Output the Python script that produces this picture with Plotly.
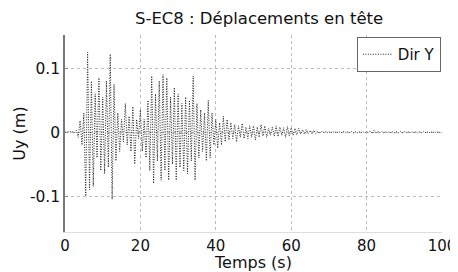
import plotly.graph_objects as go

# Sampling step of the displacement record (s)
dt = 0.5

# Displacement Uy (m), one value every dt seconds
uy_0_20 = [
    0.0, 0.0, 0.0, 0.0, 0.001, -0.001, 0.003, -0.008, 0.018, -0.02,
    0.03, -0.1, 0.125, -0.09, 0.08, -0.085, 0.06, -0.04, 0.085, -0.06,
    0.055, -0.065, 0.08, -0.055, 0.122, -0.105, 0.075, -0.045, 0.03, -0.03,
    0.02, -0.015, 0.045, -0.02, 0.025, -0.03, 0.04, -0.05, 0.02, -0.01,
]
uy_20_40 = [
    0.035, -0.03, 0.02, -0.04, 0.05, -0.06, 0.088, -0.08, 0.06, -0.045,
    0.08, -0.075, 0.09, -0.06, 0.085, -0.075, 0.055, -0.05, 0.07, -0.075,
    0.06, -0.055, 0.045, -0.06, 0.055, -0.065, 0.05, -0.045, 0.088, -0.075,
    0.045, -0.04, 0.035, -0.03, 0.03, -0.045, 0.05, -0.04, 0.03, -0.02,
]
uy_40_60 = [
    0.02, -0.025, 0.015, -0.02, 0.025, -0.015, 0.02, -0.012, 0.015, -0.01,
    0.012, -0.015, 0.01, -0.008, 0.014, -0.01, 0.008, -0.01, 0.01, -0.008,
    0.01, -0.012, 0.008, -0.008, 0.012, -0.006, 0.01, -0.008, 0.006, -0.005,
    0.008, -0.006, 0.01, -0.007, 0.008, -0.005, 0.007, -0.008, 0.009, -0.006,
]
uy_60_80 = [
    0.007, -0.005, 0.006, -0.004, 0.006, -0.003, 0.004, -0.003, 0.004, -0.002,
    0.003, -0.002, 0.003, -0.002, 0.002, -0.002, 0.002, -0.001, 0.002, -0.001,
    0.001, -0.001, 0.001, -0.001, 0.001, -0.001, 0.001, -0.001, 0.002, -0.001,
    0.001, -0.001, 0.001, -0.001, 0.001, -0.001, 0.001, -0.001, 0.001, -0.001,
]
uy_80_100 = [
    0.001, -0.001, 0.002, -0.002, 0.003, -0.002, 0.002, -0.001, 0.001, -0.001,
    0.001, -0.001, 0.001, -0.001, 0.001, -0.001, 0.001, -0.001, 0.001, -0.001,
    0.001, -0.001, 0.001, -0.001, 0.001, -0.001, 0.001, -0.001, 0.001, -0.001,
    0.001, -0.001, 0.001, -0.001, 0.001, -0.001, 0.001, -0.001, 0.001, -0.001,
    0.0,
]
uy = uy_0_20 + uy_20_40 + uy_40_60 + uy_60_80 + uy_80_100
temps = [i * dt for i in range(len(uy))]

x_ticks = [0, 20, 40, 60, 80, 100]
y_ticks = [-0.1, 0, 0.1]
y_tick_labels = ["-0.1", "0", "0.1"]

FONT = "DejaVu Sans"

fig = go.Figure()
fig.add_trace(go.Scatter(
    x=temps, y=uy, mode="lines", name="Dir Y",
    line=dict(color="#222222", width=1, dash="1px,1.5px"),
))

# page body adds an 8 px offset, so the figure is 8 px smaller each way
fig.update_layout(
    width=450, height=264,
    margin=dict(l=57, r=16, t=27, b=40),
    paper_bgcolor="white", plot_bgcolor="white",
    font=dict(family=FONT, size=15, color="#111111"),
    title=dict(text="S-EC8 : Déplacements en tête", x=0.558, xanchor="center",
               y=0.962, yanchor="middle", font=dict(size=16.5, family=FONT)),
    showlegend=True,
    legend=dict(x=0.997, y=0.99, xanchor="right", yanchor="top",
                bgcolor="white", bordercolor="#666666", borderwidth=1,
                font=dict(size=15, family=FONT),
                itemwidth=30, tracegroupgap=0),
)
fig.update_xaxes(
    range=[0, 100], tickvals=x_ticks, ticks="", showline=True,
    linecolor="#dddddd", linewidth=1, mirror=False, automargin=False,
    showgrid=True, gridcolor="#bbbbbb", griddash="dot", gridwidth=1,
    zeroline=False, tickfont=dict(size=15),
    title=dict(text="Temps (s)", standoff=0, font=dict(size=16)),
)
fig.update_yaxes(
    range=[-0.156, 0.152], tickvals=y_ticks, ticktext=y_tick_labels,
    ticks="inside", ticklen=3, tickcolor="#888888", tickwidth=1,
    showline=True, linecolor="#777777", linewidth=1.5, automargin=False,
    showgrid=True, gridcolor="#bbbbbb", griddash="dot", gridwidth=1,
    zeroline=False, tickfont=dict(size=15.5),
    title=dict(text="Uy (m)", standoff=0, font=dict(size=16)),
)

fig.write_html("out.html")
